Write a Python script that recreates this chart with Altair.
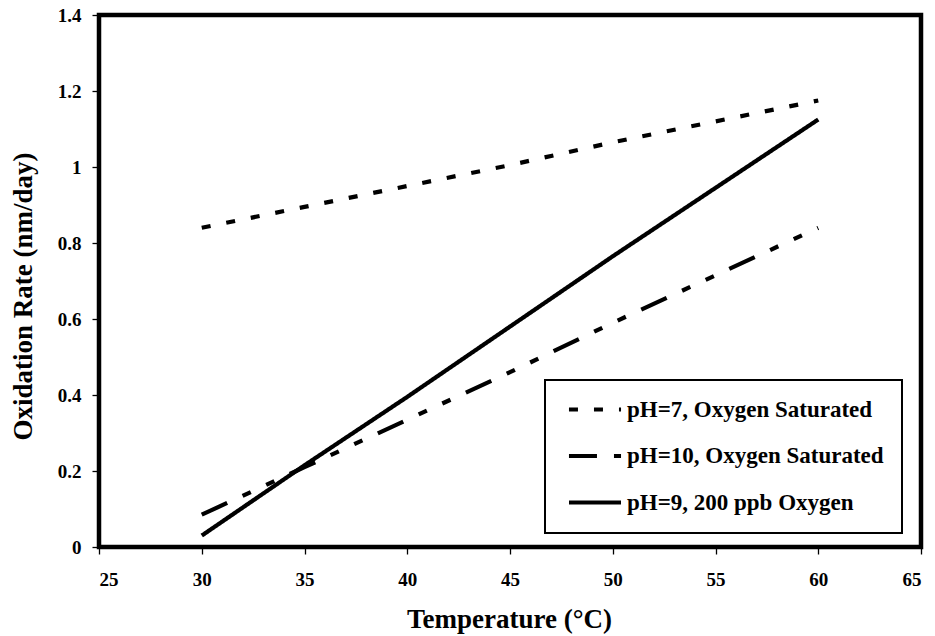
import altair as alt
import pandas as pd

# Oxidation rate vs temperature for three water chemistries
temperature = [30, 35, 40, 45, 50, 55, 60]
series_names = [
    "pH=7, Oxygen Saturated",
    "pH=10, Oxygen Saturated",
    "pH=9, 200 ppb Oxygen",
]
rate_ph7_sat = [0.84, 0.895, 0.95, 1.005, 1.065, 1.12, 1.175]
rate_ph10_sat = [0.085, 0.21, 0.335, 0.46, 0.59, 0.715, 0.84]
rate_ph9_200ppb = [0.03, 0.215, 0.395, 0.58, 0.765, 0.945, 1.125]

x_ticks = [25, 30, 35, 40, 45, 50, 55, 60, 65]
y_ticks = [0, 0.2, 0.4, 0.6, 0.8, 1.0, 1.2, 1.4]

rows = []
for name, values in zip(series_names, [rate_ph7_sat, rate_ph10_sat, rate_ph9_200ppb]):
    for t, v in zip(temperature, values):
        rows.append({"Temperature": t, "Rate": v, "Series": name})
df = pd.DataFrame(rows)

FONT = "Liberation Serif"

dash_patterns = [[9, 16], [28, 17, 9, 17, 9, 17], [1, 0]]

chart = (
    alt.Chart(df)
    .mark_line(color="black", strokeWidth=4.2, strokeCap="butt")
    .encode(
        x=alt.X(
            "Temperature:Q",
            scale=alt.Scale(domain=[25, 65], nice=False, zero=False),
            axis=alt.Axis(
                values=x_ticks,
                title="Temperature (°C)",
                titleX=410,
                titleY=80,
                titleBaseline="alphabetic",
                labelBaseline="alphabetic",
                labelPadding=31,
            ),
        ),
        y=alt.Y(
            "Rate:Q",
            scale=alt.Scale(domain=[0, 1.4], nice=False),
            axis=alt.Axis(
                values=y_ticks,
                format="~g",
                title="Oxidation Rate (nm/day)",
                titleX=-68,
                titleY=281,
                titleBaseline="alphabetic",
                titleAlign="center",
                labelPadding=11,
            ),
        ),
        strokeDash=alt.StrokeDash(
            "Series:N",
            scale=alt.Scale(domain=series_names, range=dash_patterns),
            sort=series_names,
            legend=alt.Legend(
                title=None,
                orient="none",
                legendX=446,
                legendY=365,
                padding=18,
                rowPadding=22.5,
                strokeColor="black",
                fillColor="white",
                symbolType="M-2.74,0H2.74",
                symbolSize=361,
                symbolStrokeWidth=4,
                symbolStrokeColor="black",
                symbolFillColor="transparent",
                symbolOffset=20.5,
                labelOffset=20.5,
                labelFont=FONT,
                labelFontSize=23,
                labelFontWeight="bold",
                labelColor="black",
                labelLimit=0,
            ),
        ),
    )
    .properties(
        width=822,
        height=532,
        padding={"left": 99, "top": 15, "right": 14, "bottom": 89},
        autosize=alt.AutoSizeParams(type="none"),
    )
    .configure_view(stroke="black", strokeWidth=4.5)
    .configure_legend(strokeWidth=2)
    .configure_axis(
        grid=False,
        domain=False,
        tickColor="black",
        tickWidth=1.3,
        tickSize=7,
        labelFont=FONT,
        labelFontSize=19,
        labelFontWeight="bold",
        labelColor="black",
        titleFont=FONT,
        titleFontSize=27,
        titleFontWeight="bold",
        titleColor="black",
    )
)

chart.save("out.html", embed_options={"renderer": "svg", "actions": False})
